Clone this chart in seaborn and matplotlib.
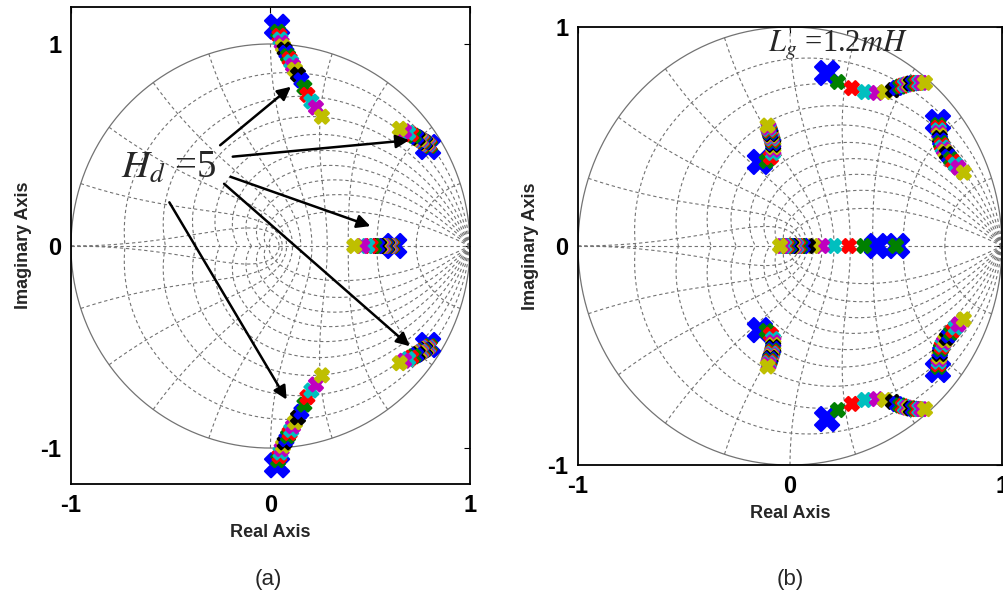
import numpy as np
import pandas as pd
import matplotlib
matplotlib.use('Agg')
import matplotlib.pyplot as plt
import seaborn as sns

## pole positions (one point per sweep step)
## (a) Hd = 5
a_top_x = [0.033, 0.038, 0.045, 0.050, 0.056, 0.063, 0.071, 0.080, 0.088, 0.096,
           0.104, 0.113, 0.123, 0.138, 0.155, 0.170, 0.185, 0.205, 0.228, 0.258]
a_top_y = [1.085, 1.060, 1.040, 1.022, 1.005, 0.988, 0.972, 0.956, 0.940, 0.925,
           0.910, 0.892, 0.872, 0.848, 0.820, 0.785, 0.748, 0.715, 0.685, 0.640]
a_ur_x = [0.790, 0.800, 0.795, 0.790, 0.785, 0.780, 0.775, 0.770, 0.765, 0.760,
          0.755, 0.750, 0.745, 0.738, 0.730, 0.718, 0.705, 0.690, 0.670, 0.648]
a_ur_y = [0.490, 0.495, 0.500, 0.503, 0.506, 0.509, 0.512, 0.515, 0.518, 0.521,
          0.524, 0.527, 0.530, 0.535, 0.540, 0.546, 0.553, 0.560, 0.568, 0.580]
a_re_x = [0.620, 0.612, 0.606, 0.600, 0.595, 0.590, 0.585, 0.580, 0.575, 0.570,
          0.565, 0.560, 0.553, 0.545, 0.535, 0.520, 0.502, 0.485, 0.460, 0.420]

## (b) Lg = 1.2mH
b_top_x = [0.175, 0.226, 0.292, 0.354, 0.410, 0.448, 0.486, 0.505, 0.520, 0.532,
           0.542, 0.552, 0.562, 0.570, 0.580, 0.590, 0.600, 0.610, 0.620, 0.637]
b_top_y = [0.790, 0.749, 0.721, 0.703, 0.699, 0.703, 0.712, 0.722, 0.728, 0.732,
           0.735, 0.738, 0.740, 0.742, 0.743, 0.744, 0.745, 0.745, 0.745, 0.745]
b_ur_x = [0.698, 0.700, 0.700, 0.702, 0.703, 0.705, 0.707, 0.708, 0.712, 0.716,
          0.720, 0.726, 0.733, 0.740, 0.750, 0.760, 0.770, 0.782, 0.795, 0.820]
b_ur_y = [0.566, 0.552, 0.540, 0.528, 0.516, 0.505, 0.493, 0.482, 0.470, 0.460,
          0.450, 0.440, 0.430, 0.420, 0.408, 0.396, 0.385, 0.372, 0.358, 0.335]
b_ul_x = [-0.142, -0.110, -0.090, -0.080, -0.078, -0.078, -0.079, -0.080, -0.082, -0.084,
          -0.086, -0.088, -0.090, -0.092, -0.094, -0.096, -0.098, -0.100, -0.102, -0.106]
b_ul_y = [0.384, 0.388, 0.405, 0.425, 0.440, 0.452, 0.462, 0.470, 0.478, 0.485,
          0.492, 0.499, 0.505, 0.511, 0.517, 0.523, 0.529, 0.535, 0.541, 0.550]
b_re_x = [0.410, 0.349, 0.278, 0.208, 0.151, 0.108, 0.085, 0.061, 0.048, 0.038,
          0.030, 0.022, 0.014, 0.006, -0.002, -0.010, -0.018, -0.026, -0.036, -0.047]
b_re2_x = [0.505, 0.500]

step_colours = ['#0000ff', '#008000', '#ff0000', '#00bfbf', '#bf00bf', '#bfbf00', '#000000']

## arrows of panel (a): text -> branch
arrow_start = [(-0.263, 0.490), (-0.203, 0.441), (-0.213, 0.347), (-0.243, 0.317), (-0.514, 0.228)]
arrow_tip = [(0.113, 0.797), (0.709, 0.525), (0.514, 0.094), (0.709, -0.505), (0.088, -0.772)]


def branch(panel, xs, ys, conj=False):
    rows = []
    for i, (x, y) in enumerate(zip(xs, ys)):
        rows.append((panel, x, y, i))
        if conj:
            rows.append((panel, x, -y, i))
    return rows


rows = []
rows += branch('a', a_top_x, a_top_y, conj=True)
rows += branch('a', a_ur_x, a_ur_y, conj=True)
rows += branch('a', a_re_x, [0.0] * len(a_re_x))
rows += branch('b', b_top_x, b_top_y, conj=True)
rows += branch('b', b_ur_x, b_ur_y, conj=True)
rows += branch('b', b_ul_x, b_ul_y, conj=True)
rows += branch('b', b_re_x, [0.0] * len(b_re_x))
rows += branch('b', b_re2_x, [0.0] * len(b_re2_x))
df = pd.DataFrame(rows, columns=['panel', 'x', 'y', 'step'])
df = df.sort_values('step', kind='stable')

sns.set_style('white')
plt.rcParams['font.family'] = ['Liberation Sans', 'DejaVu Sans']
plt.rcParams['mathtext.fontset'] = 'stix'


def zgrid(ax):
    # z-plane grid: damping ratio spirals and natural frequency curves
    gcol = '0.45'
    ls = (0, (3, 2.5))
    t = np.linspace(0, 2 * np.pi, 500)
    ax.plot(np.cos(t), np.sin(t), color=gcol, lw=0.9, zorder=1)
    ax.plot([-1, 1], [0, 0], color=gcol, lw=0.8, ls=ls, zorder=1)
    for zeta in np.arange(1, 10) / 10:
        wd = np.linspace(0, np.pi, 200)
        z = np.exp(-zeta / np.sqrt(1 - zeta ** 2) * wd) * np.exp(1j * wd)
        for sgn in (1, -1):
            ax.plot(z.real, sgn * z.imag, color=gcol, lw=0.8, ls=ls, zorder=1)
    for wn in np.arange(1, 11) / 10 * np.pi:
        zeta = np.linspace(0, 1, 200)
        z = np.exp(-zeta * wn) * np.exp(1j * wn * np.sqrt(1 - zeta ** 2))
        for sgn in (1, -1):
            ax.plot(z.real, sgn * z.imag, color=gcol, lw=0.8, ls=ls, zorder=1)


fig = plt.figure(figsize=(10.04, 5.98), dpi=100)
ax_a = fig.add_axes([0.0707, 0.1906, 0.3974, 0.7977])
ax_b = fig.add_axes([0.5757, 0.2224, 0.4223, 0.7324])

palette = {i: step_colours[i % 7] for i in range(20)}
sizes = {i: (300 if i == 0 else 100) for i in range(20)}

for ax, panel, ylim in [(ax_a, 'a', (-1.178, 1.183)), (ax_b, 'b', (-1, 1))]:
    zgrid(ax)
    pts = df[df.panel == panel]
    sns.scatterplot(data=pts, x='x', y='y', hue='step', size='step',
                    palette=palette, sizes=sizes, marker='X', linewidth=1.6,
                    edgecolor=[palette[s] for s in pts.step],
                    legend=False, ax=ax, zorder=3)
    ax.set_xlim(-1, 1)
    ax.set_ylim(*ylim)
    ax.set_xticks([-1, 0, 1])
    ax.set_yticks([-1, 0, 1])
    ax.set_xticklabels(['-1', '0', '1'], fontsize=17, fontweight='bold')
    ax.set_yticklabels(['-1', '0', '1'], fontsize=17, fontweight='bold')
    ax.tick_params(direction='in', length=4, top=True, right=True, pad=7, colors='k')
    ax.set_xlabel('Real Axis', fontsize=13, fontweight='bold', labelpad=5)
    ax.set_ylabel('Imaginary Axis', fontsize=13, fontweight='bold', labelpad=6)
    for sp in ax.spines.values():
        sp.set_color('k')
        sp.set_linewidth(1.3)

ax_a.text(-0.513, 0.386, r'$H_d$ =5', fontsize=28, family='Liberation Serif',
          ha='center', va='center')
for s, e in zip(arrow_start, arrow_tip):
    ax_a.annotate('', xy=e, xytext=s,
                  arrowprops=dict(arrowstyle='-|>', color='k', lw=1.8, mutation_scale=20))

ax_b.text(0.226, 0.918, r'$L_g$ =1.2$mH$', fontsize=22, family='Liberation Serif',
          ha='center', va='center')

fig.text(268 / 1004, 1 - 580 / 598, '(a)', fontsize=16, ha='center', va='center')
fig.text(790 / 1004, 1 - 580 / 598, '(b)', fontsize=16, ha='center', va='center')

fig.savefig('out.png', dpi=100)
